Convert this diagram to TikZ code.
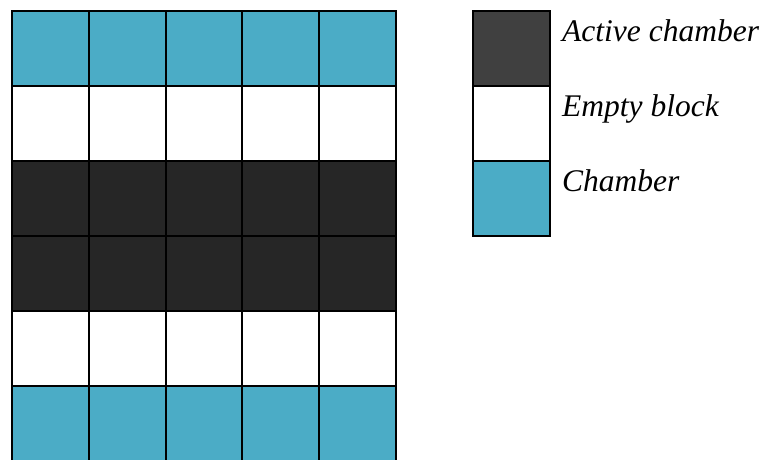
\documentclass[tikz,border=0pt]{standalone}
\usepackage{fontspec}
\setmainfont{Liberation Serif}
\definecolor{chamber}{HTML}{4BACC6}
\definecolor{activegrid}{HTML}{262626}
\definecolor{activelegend}{HTML}{404040}
\begin{document}
\begin{tikzpicture}[x=1pt,y=-1pt,
  cell/.style={draw=black,line width=2pt,minimum width=76.8pt,minimum height=75pt,inner sep=0pt,outer sep=0pt,anchor=north west},
  legbox/.style={draw=black,line width=2pt,minimum width=76.5pt,minimum height=75pt,inner sep=0pt,outer sep=0pt,anchor=north west},
  legtext/.style={font=\fontsize{31.5}{32}\selectfont\itshape,anchor=base west,inner sep=0pt}]
\useasboundingbox (0,0) rectangle (766,459);
% grid
\foreach \r/\col in {0/chamber,1/white,2/activegrid,3/activegrid,4/white,5/chamber}{
  \foreach \c in {0,...,4}{
    \node[cell,fill=\col] (c-\r-\c) at ({12+76.8*\c},{11+75*\r}) {};
  }
}
% legend
\node[legbox,fill=activelegend] (la) at (473,11) {};
\node[legbox,fill=white] (le) at (473,86) {};
\node[legbox,fill=chamber] (lc) at (473,161) {};
\node[legtext] (ta) at (562,41) {Active chamber};
\node[legtext] (te) at (562,116) {Empty block};
\node[legtext] (tc) at (562,191) {Chamber};
\end{tikzpicture}
\end{document}
